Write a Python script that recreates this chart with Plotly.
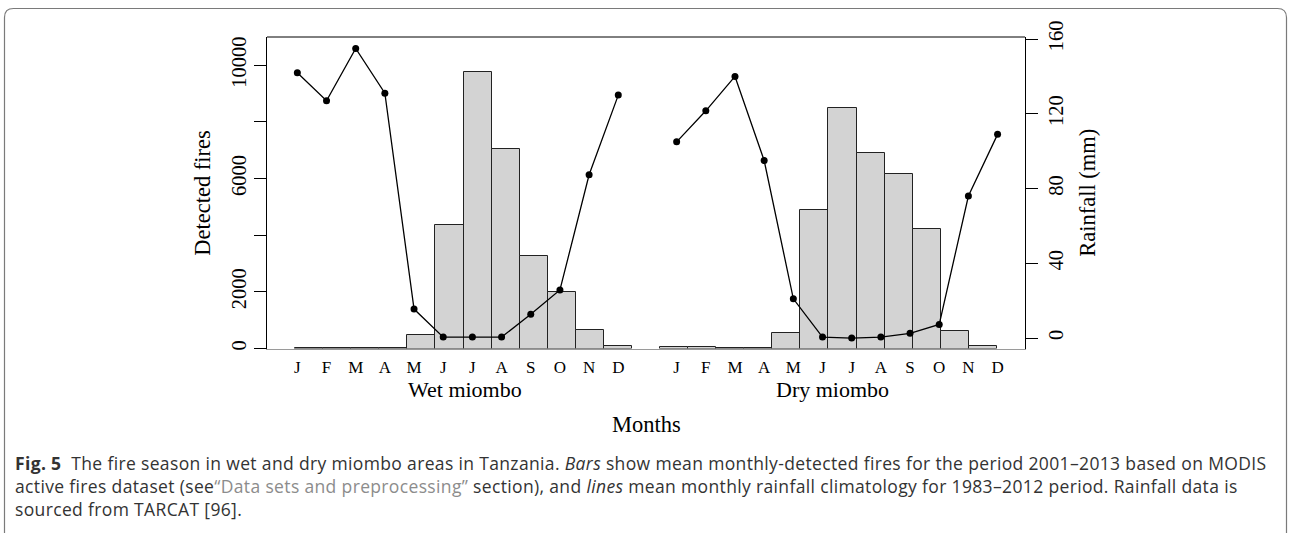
import plotly.graph_objects as go

# Month labels and the two miombo zones
months = ["J", "F", "M", "A", "M", "J", "J", "A", "S", "O", "N", "D"]
zones = ["Wet miombo", "Dry miombo"]

# Mean monthly detected fires (2001-2013)
wet_fires = [20, 15, 10, 15, 470, 4350, 9780, 7050, 3250, 1990, 650, 80]
dry_fires = [55, 50, 10, 15, 550, 4900, 8480, 6900, 6170, 4220, 610, 100]

# Mean monthly rainfall climatology, mm (1983-2012)
wet_rain = [142, 127, 155, 131, 15.5, 0.5, 0.5, 0.5, 12.7, 25.7, 87.4, 130]
dry_rain = [105, 121.6, 140, 95, 21, 0.5, 0, 0.5, 2.5, 7.3, 76, 109]

# Slot positions: 12 wet months, one empty slot, 12 dry months
wet_pos = list(range(12))
dry_pos = [p + 13 for p in range(12)]
# Where each zone name sits along the month axis
zone_at = [5.75, 18.35]

W, H = 1290, 533
SERIF = "Liberation Serif"


def px_x(v):
    return v / W


def px_y(v):
    return 1 - v / H


x_dom = [px_x(267), px_x(1025)]
y_dom = [px_y(348.5), px_y(37)]

fig = go.Figure()

fig.add_trace(go.Bar(
    x=wet_pos + dry_pos, y=wet_fires + dry_fires, width=1.0,
    marker=dict(color="#d3d3d3", line=dict(color="#222222", width=1)),
    xaxis="x", yaxis="y", showlegend=False, hoverinfo="skip"))

for pos, rain in ((wet_pos, wet_rain), (dry_pos, dry_rain)):
    fig.add_trace(go.Scatter(
        x=pos, y=rain, mode="lines+markers",
        line=dict(color="black", width=1.3),
        marker=dict(color="black", size=7),
        xaxis="x2", yaxis="y2", showlegend=False, hoverinfo="skip"))

fig.update_layout(
    width=W, height=H,
    margin=dict(l=0, r=0, t=0, b=0, pad=0, autoexpand=False),
    paper_bgcolor="white", plot_bgcolor="white",
    bargap=0,
    font=dict(family=SERIF, color="black", size=20),
    xaxis=dict(domain=x_dom, range=[-1.5, 25.5], showgrid=False,
               automargin=False, zeroline=False, showticklabels=False,
               ticks="", showline=True, linecolor="#9a9a9a", linewidth=1),
    xaxis2=dict(domain=x_dom, range=[-1.04, 24.94], overlaying="x",
                anchor="y", side="bottom", showgrid=False, zeroline=False,
                automargin=False,
                tickvals=wet_pos + dry_pos, ticktext=months + months,
                tickfont=dict(family=SERIF, size=17), ticks="",
                ticklabelstandoff=6),
    yaxis=dict(domain=y_dom, range=[0, 11000], showgrid=False,
               automargin=False,
               zeroline=False, showline=True, linecolor="black",
               linewidth=1, ticks="outside", ticklen=12,
               tickcolor="black",
               tickvals=[0, 2000, 4000, 6000, 8000, 10000],
               ticktext=["0", "2000", "", "6000", "", "10000"],
               tickangle=-90, tickfont=dict(family=SERIF, size=20.5)),
    yaxis2=dict(domain=y_dom, range=[-5.6, 161.1], overlaying="y",
                side="right", anchor="x", showgrid=False, zeroline=False,
                automargin=False,
                showline=True, linecolor="black", linewidth=1,
                ticks="outside", ticklen=12, tickcolor="black",
                tickvals=[0, 40, 80, 120, 160],
                tickangle=-90, tickfont=dict(family=SERIF, size=20.5)),
)

# Top edge of the plot frame
fig.add_shape(type="line", xref="x domain", yref="y domain",
              x0=0, x1=1, y0=1, y1=1,
              line=dict(color="black", width=1))

# Axis titles and group labels
mid = dict(xanchor="center", yanchor="middle", showarrow=False)
ann = []
ann.append(dict(text="Detected fires", x=px_x(203), xref="paper",
                y=0.5, yref="y domain", textangle=-90,
                font=dict(family=SERIF, size=22.5), **mid))
ann.append(dict(text="Rainfall (mm)", x=px_x(1088), xref="paper",
                y=0.5, yref="y domain", textangle=-90,
                font=dict(family=SERIF, size=22.5), **mid))
for zone, at in zip(zones, zone_at):
    ann.append(dict(text=zone, x=at, xref="x2",
                    y=px_y(389), yref="paper",
                    font=dict(family=SERIF, size=22), **mid))
ann.append(dict(text="Months", x=0.5, xref="x domain",
                y=px_y(424), yref="paper",
                font=dict(family=SERIF, size=22.5), **mid))

# Figure caption
CAP = "Open Sans"
link = "#8c8c8c"
track = "letter-spacing:0.35px"
cap_lines = [
    "<b>Fig. 5</b>\u00a0\u00a0The fire season in wet and dry miombo areas in "
    "Tanzania. <i>Bars</i> show mean monthly-detected fires for the period "
    "2001\u20132013 based on MODIS",
    "active fires dataset (see<span style='color:" + link + ";" + track +
    "'>\u201cData sets and preprocessing\u201d</span> section), and "
    "<i>lines</i> mean monthly rainfall climatology for 1983\u20132012 "
    "period. Rainfall data is",
    "sourced from TARCAT [96].",
]
for i, line in enumerate(cap_lines):
    ann.append(dict(text="<span style='" + track + "'>" + line + "</span>",
                    x=px_x(13), xref="paper", xanchor="left",
                    y=px_y(462.5 + 23 * i), yref="paper", yanchor="middle",
                    showarrow=False,
                    font=dict(family=CAP, size=17.5, color="#333333")))
fig.update_layout(annotations=ann)

# Rounded panel border
x0, x1 = px_x(4.5), px_x(1286.5)
y0, y1 = px_y(8.5), px_y(545)
rx, ry = px_x(9), 9 / H
path = (f"M {x0},{y1} L {x0},{y0 - ry} Q {x0},{y0} {x0 + rx},{y0} "
        f"L {x1 - rx},{y0} Q {x1},{y0} {x1},{y0 - ry} L {x1},{y1}")
fig.add_shape(type="path", xref="paper", yref="paper", path=path,
              line=dict(color="#7a7a7a", width=1.2))

fig.write_html("out.html")
